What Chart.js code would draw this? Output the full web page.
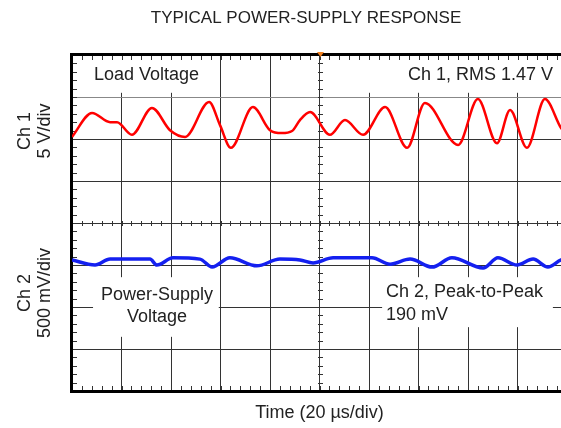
<!DOCTYPE html>
<html>
<head>
<meta charset="utf-8">
<script src="https://cdn.jsdelivr.net/npm/chart.js@4.4.0/dist/chart.umd.min.js"></script>
<style>
  html, body { margin: 0; padding: 0; background: #fff; overflow: hidden; }
  canvas { display: block; }
</style>
</head>
<body>
<canvas id="scope" width="575" height="428"></canvas>
<script>
// time in microseconds (20 us/div), levels in screen divisions from the centre line
let ch1Time = [0, 8.1, 15.4, 18.2, 24.2, 32.3, 39.6, 45.7, 55.4, 59.8, 64.2, 73.1, 80.0, 84.8, 88.9, 92.1, 96.2,
  104.2, 110.3, 117.6, 126.5, 135.4, 142.6, 156.0, 164.0, 171.7, 177.0, 183.8, 191.1, 197.6, 200];
let ch1Div = [2.05, 2.62, 2.40, 2.40, 2.10, 2.74, 2.21, 2.05, 2.88, 2.33, 1.79, 2.76, 2.21, 2.14, 2.19, 2.45, 2.64,
  2.10, 2.45, 2.10, 2.76, 1.79, 2.86, 1.86, 2.95, 1.90, 2.69, 1.79, 2.95, 2.26, 2.10];

let ch2Time = [0, 9.3, 15.4, 31.5, 34.3, 40.8, 51.7, 56.6, 63.8, 74.7, 84.0, 92.1, 97.4, 105.5, 121.2, 128.5,
  136.6, 145.5, 153.5, 166.1, 172.1, 179.8, 186.3, 192.3, 197.6, 200];
let ch2Div = [-0.88, -1.00, -0.86, -0.86, -1.00, -0.83, -0.86, -1.05, -0.83, -1.02, -0.86, -0.88, -0.95, -0.83, -0.83, -0.98,
  -0.86, -1.05, -0.83, -1.07, -0.83, -1.00, -0.86, -1.05, -0.88, -0.86];

let chartTitle = "TYPICAL POWER-SUPPLY RESPONSE";
let xLabel = "Time (20 \u00B5s/div)";
let ch1Label = ["Ch 1", "5 V/div"];
let ch2Label = ["Ch 2", "500 mV/div"];

let toPoints = (xs, ys) => xs.map((t, i) => ({x: t, y: ys[i]}));

const FONT = '18px "Liberation Sans", Arial, sans-serif';
const INK = '#222';

// white label boxes on the screen, in scale units [t0, t1, top, bottom]
const boxes = [
  [0, 57.8, 4, 3.1],
  [106, 200, 4, 3.1],
  [8.5, 59.3, -1.29, -2.71],
  [125.3, 194.3, -1.29, -2.48]
];

const scopeDecor = {
  id: 'scopeDecor',
  beforeDatasetsDraw(chart) {
    const {ctx, chartArea: a, scales: {x, y}} = chart;
    ctx.save();

    // label boxes hide the graticule behind them
    ctx.fillStyle = '#fff';
    boxes.forEach(b => {
      let l = x.getPixelForValue(b[0]), r = x.getPixelForValue(b[1]);
      let t = y.getPixelForValue(b[2]), bt = y.getPixelForValue(b[3]);
      ctx.fillRect(l, t, r - l, bt - t);
    });

    // minor ticks: borders and centre crosshair
    ctx.strokeStyle = '#333';
    ctx.lineWidth = 1;
    let cx = Math.round(x.getPixelForValue(100)) + 0.5;
    let cy = Math.round(y.getPixelForValue(0)) + 0.5;
    ctx.beginPath();
    for (let i = 0; i <= 50; i++) {
      let px = Math.round(x.getPixelForValue(i * 4)) + 0.5;
      ctx.moveTo(px, a.top); ctx.lineTo(px, a.top + 5);
      ctx.moveTo(px, a.bottom - 5); ctx.lineTo(px, a.bottom);
      ctx.moveTo(px, cy - 2.5); ctx.lineTo(px, cy + 2.5);
    }
    for (let j = 0; j <= 40; j++) {
      let py = Math.round(y.getPixelForValue(-4 + j * 0.2)) + 0.5;
      ctx.moveTo(a.left, py); ctx.lineTo(a.left + 5, py);
      ctx.moveTo(a.right - 6, py); ctx.lineTo(a.right, py);
      ctx.moveTo(cx - 2.5, py); ctx.lineTo(cx + 2.5, py);
    }
    ctx.stroke();

    // heavy frame
    ctx.strokeStyle = '#000';
    ctx.lineWidth = 3;
    ctx.beginPath();
    ctx.moveTo(a.right, a.top - 0.5);
    ctx.lineTo(a.left - 0.5, a.top - 0.5);
    ctx.lineTo(a.left - 0.5, a.bottom + 0.5);
    ctx.lineTo(a.right, a.bottom + 0.5);
    ctx.lineTo(a.right, a.top - 0.5);
    ctx.stroke();

    // trigger marker
    ctx.fillStyle = '#f08020';
    ctx.beginPath();
    ctx.moveTo(cx - 3.5, a.top - 3);
    ctx.lineTo(cx + 3.5, a.top - 3);
    ctx.lineTo(cx, a.top + 2);
    ctx.closePath();
    ctx.fill();

    // screen annotations
    ctx.fillStyle = INK;
    ctx.font = FONT;
    ctx.textBaseline = 'middle';
    ctx.textAlign = 'left';
    ctx.fillText('Load Voltage', 94, 75);
    ctx.textAlign = 'right';
    ctx.fillText('Ch 1, RMS 1.47 V', 553, 75);
    ctx.textAlign = 'center';
    ctx.fillText('Power-Supply', 157, 295);
    ctx.fillText('Voltage', 157, 317);
    ctx.textAlign = 'left';
    ctx.fillText('Ch 2, Peak-to-Peak', 386, 292);
    ctx.fillText('190 mV', 386, 315);

    // titles outside the screen
    ctx.textAlign = 'center';
    ctx.font = '17px "Liberation Sans", Arial, sans-serif';
    ctx.fillText(chartTitle, 306, 18);
    ctx.font = FONT;
    ctx.fillText(xLabel, (a.left + a.right) / 2, 413);
    [[ch1Label, 131], [ch2Label, 293]].forEach(([lines, yc]) => {
      ctx.save();
      ctx.translate(25, yc);
      ctx.rotate(-Math.PI / 2);
      ctx.fillText(lines[0], 0, 0);
      ctx.fillText(lines[1], 0, 20);
      ctx.restore();
    });

    ctx.restore();
  }
};

var scope = document.getElementById("scope").getContext('2d');

var scopeChart = new Chart(scope, {
  type: 'line',
  data: {
    datasets: [{
      label: 'Ch 1',
      data: toPoints(ch1Time, ch1Div),
      borderColor: '#ff0000',
      borderWidth: 2.5,
      cubicInterpolationMode: 'monotone',
      pointRadius: 0
    }, {
      label: 'Ch 2',
      data: toPoints(ch2Time, ch2Div),
      borderColor: '#1420f0',
      borderWidth: 3.5,
      cubicInterpolationMode: 'monotone',
      pointRadius: 0
    }]
  },
  options: {
    responsive: false,
    animation: false,
    layout: { padding: { left: 72, top: 55, right: 8, bottom: 37 } },
    plugins: {
      legend: { display: false },
      tooltip: { enabled: false },
      title: { display: false }
    },
    scales: {
      x: {
        type: 'linear',
        min: 0,
        max: 200,
        ticks: { stepSize: 20, display: false },
        grid: { color: '#333', lineWidth: 1, drawTicks: false },
        border: { display: false }
      },
      y: {
        min: -4,
        max: 4,
        ticks: { stepSize: 1, display: false },
        grid: {
          color: c => (c.tick && c.tick.value === 3) ? '#888' : '#333',
          lineWidth: 1,
          drawTicks: false
        },
        border: { display: false }
      }
    }
  },
  plugins: [scopeDecor]
});
</script>
</body>
</html>
